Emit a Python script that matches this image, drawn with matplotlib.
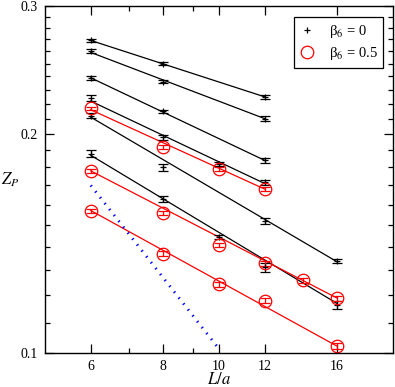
import matplotlib
matplotlib.use("Agg")
import matplotlib.pyplot as plt
from matplotlib.lines import Line2D
from matplotlib.ticker import FixedLocator, NullFormatter

plt.rcParams['font.family'] = ['Liberation Serif', 'DejaVu Serif']
plt.rcParams['mathtext.fontset'] = 'stix'

# beta_6 = 0 data (black), one list per line
b_x = [[6, 8, 12], [6, 8, 12], [6, 8, 12], [6, 8, 10, 12],
       [6, 8, 12, 16], [6, 8, 10, 12, 16]]
b_y = [[0.269, 0.250, 0.225],
       [0.260, 0.236, 0.210],
       [0.239, 0.215, 0.184],
       [0.224, 0.198, 0.182, 0.1716],
       [0.212, 0.180, 0.152, 0.1338],
       [0.188, 0.163, 0.1445, 0.1312, 0.1164]]
b_err = [[0.0015, 0.001, 0.0015],
         [0.0015, 0.001, 0.0015],
         [0.0015, 0.001, 0.0015],
         [0.002, 0.0015, 0.0012, 0.0012],
         [0.0015, 0.0018, 0.0015, 0.0008],
         [0.002, 0.0015, 0.001, 0.0018, 0.0015]]

# fits for beta_6 = 0 : (x start, x end, y start, y end)
b_fit = [(6, 12, 0.269, 0.225),
         (6, 12, 0.259, 0.210),
         (6, 12, 0.239, 0.184),
         (6, 12, 0.222, 0.171),
         (6, 16, 0.211, 0.1335),
         (6, 16, 0.187, 0.117)]

# beta_6 = 0.5 data (red)
r_x = [[6, 8, 10, 12], [6, 8, 10, 12, 14, 16], [6, 8, 10, 12, 16]]
r_y = [[0.217, 0.192, 0.179, 0.168],
       [0.178, 0.156, 0.1407, 0.1328, 0.126, 0.1189],
       [0.157, 0.137, 0.1244, 0.118, 0.1022]]
r_err = [[0.001, 0.001, 0.001, 0.001],
         [0.001, 0.001, 0.001, 0.001, 0.001, 0.001],
         [0.001, 0.001, 0.001, 0.001, 0.001]]
r_fit = [(6, 12, 0.216, 0.168),
         (6, 16, 0.178, 0.119),
         (6, 16, 0.157, 0.1022)]

# 1/L guide line (blue dotted)
blue_x = [6, 10]
blue_y = [0.170, 0.1013]

fig = plt.figure(figsize=(3.95, 3.87), dpi=100)
ax = fig.add_axes([45/395, 1-353/387, 348/395, 347/387])
ax.set_xscale('log')
ax.set_yscale('log')

for f in b_fit:
    ax.plot([f[0], f[1]], [f[2], f[3]], color='black', lw=0.9)
for f in r_fit:
    ax.plot([f[0], f[1]], [f[2], f[3]], color='red', lw=0.9)

for i in range(len(b_x)):
    ax.errorbar(b_x[i], b_y[i], yerr=b_err[i], fmt='+', color='black',
                ms=4, mew=0.9, elinewidth=0.9, capsize=3.5, capthick=0.9)
for i in range(len(r_x)):
    ax.errorbar(r_x[i], r_y[i], yerr=r_err[i], fmt='o', color='red',
                mfc='none', mec='red', ms=9, mew=0.9, elinewidth=0.9,
                capsize=3.5, capthick=0.9)

ax.plot(blue_x, blue_y, color='blue', lw=2.0, linestyle=(0, (0.5, 2.2)))

ax.set_xlim(5, 20)
ax.set_ylim(0.1, 0.3)

ax.xaxis.set_major_locator(FixedLocator([6, 8, 10, 12, 16]))
ax.xaxis.set_minor_locator(FixedLocator([7, 9]))
ax.set_xticklabels(['6', '8', '10', '12', '16'])
ax.xaxis.set_minor_formatter(NullFormatter())
ax.yaxis.set_major_locator(FixedLocator([0.1, 0.2, 0.3]))
ax.yaxis.set_minor_locator(FixedLocator([0.11, 0.12, 0.13, 0.14, 0.15, 0.16, 0.17, 0.18, 0.19,
                                         0.21, 0.22, 0.23, 0.24, 0.25, 0.26, 0.27, 0.28, 0.29]))
ax.set_yticklabels(['0.1', '0.2', '0.3'])
ax.yaxis.set_minor_formatter(NullFormatter())

ax.tick_params(which='both', direction='in', top=True, right=True, labelsize=10, width=0.9)
ax.tick_params(which='major', length=6.5, pad=5)
ax.tick_params(which='minor', length=3.3)
for s in ax.spines.values():
    s.set_linewidth(1.0)

ax.set_xlabel(r'$L/a$', fontsize=12, labelpad=-1)
ax.set_ylabel(r'$Z_P$', fontsize=12, rotation=0, va='center', ha='center')
ax.yaxis.set_label_coords(-0.1, 0.5)

handles = [Line2D([], [], ls='none', marker='+', color='black', ms=4, mew=0.9),
           Line2D([], [], ls='none', marker='o', mfc='none', mec='red', ms=9, mew=0.9)]
labels = ['β$_6$ = 0', 'β$_6$ = 0.5']
leg = ax.legend(handles, labels, loc='upper right', bbox_to_anchor=(0.972, 0.968),
                fontsize=10.5, frameon=True, fancybox=False, edgecolor='black',
                framealpha=1, handlelength=1.0, handletextpad=1.0, borderpad=0.4,
                labelspacing=0.35, borderaxespad=0)
leg.get_frame().set_linewidth(0.9)

fig.savefig('out.png', dpi=100)
